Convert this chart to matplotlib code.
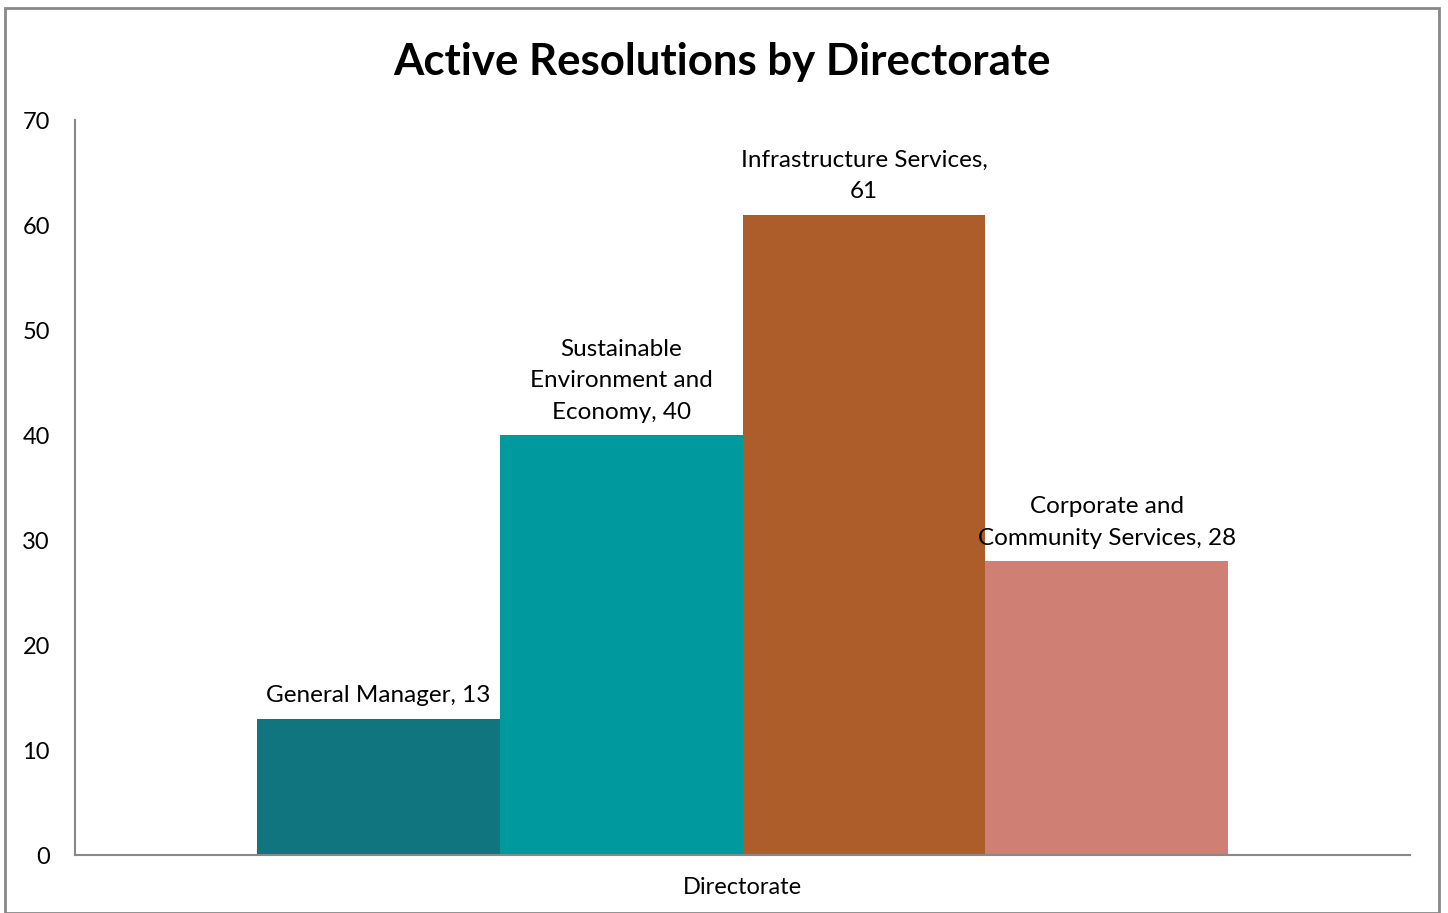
import matplotlib.pyplot as plt
from matplotlib.patches import Rectangle

directorates = ['General Manager', 'Sustainable Environment and Economy',
                'Infrastructure Services', 'Corporate and Community Services']
label_text = ['General Manager, 13', 'Sustainable\nEnvironment and\nEconomy, 40',
              'Infrastructure Services,\n61', 'Corporate and\nCommunity Services, 28']
resolutions = [13, 40, 61, 28]
colors = ['#10757F', '#00999E', '#AD5D2A', '#CF7F73']

plt.rcParams['font.family'] = ['Lato', 'DejaVu Sans']

fig = plt.figure(figsize=(14.48, 9.13), dpi=100)
ax = fig.add_axes([75 / 1448, 1 - 855 / 913, 1335 / 1448, 735 / 913])

pos = list(range(len(resolutions)))
ax.bar(pos, resolutions, width=1.0, color=colors)

for x, v, t in zip(pos, resolutions, label_text):
    ax.annotate(t, (x, v), xytext=(0, 9), textcoords='offset points',
                ha='center', va='bottom', fontsize=17.5, linespacing=1.6)

ax.set_xlim(-1.249, 4.249)
ax.set_ylim(0, 70)
ax.set_yticks(range(0, 71, 10))
ax.set_xticks([])
ax.tick_params(axis='y', length=0, pad=18, labelsize=17)
for s in ['top', 'right']:
    ax.spines[s].set_visible(False)
for s in ['left', 'bottom']:
    ax.spines[s].set_color('#888888')
    ax.spines[s].set_linewidth(1.5)

ax.set_xlabel('Directorate', fontsize=17, labelpad=16)
fig.suptitle('Active Resolutions by Directorate', fontsize=31.5, fontweight='bold',
             x=722 / 1448, y=1 - 62 / 913, va='center')

fig.patches.append(Rectangle((5 / 1448, 0), 1434 / 1448, 1 - 8 / 913, transform=fig.transFigure,
                             fill=False, edgecolor='#888888', linewidth=2))

fig.savefig('out.png', dpi=100)
